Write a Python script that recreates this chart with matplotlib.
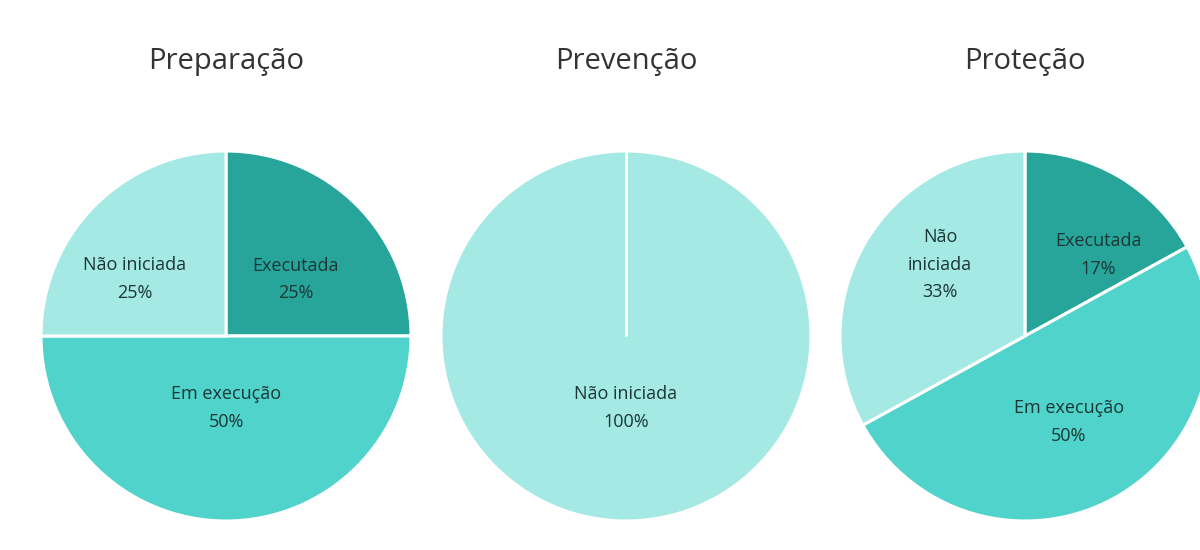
import numpy as np
import matplotlib.pyplot as plt

plt.rcParams['font.family'] = ['Open Sans', 'DejaVu Sans']

groups = ['Preparação', 'Prevenção', 'Proteção']
statuses = ['Executada', 'Em execução', 'Não iniciada']
preparacao = [25, 50, 25]
prevencao = [0, 0, 100]
protecao = [17, 50, 33]
colors = ['#27A59B', '#4FD3CA', '#A4E9E4']

# label placement inside each pie: (distance from centre, angle in degrees)
label_pos = [[(0.485, 39), (0.39, -90), (0.58, 148)],
             [None, None, (0.39, -90)],
             [(0.59, 48), (0.52, -63), (0.6, 140)]]
# Não iniciada label wraps in the narrower wedge of the last pie
label_text = [statuses, statuses, ['Executada', 'Em execução', 'Não\niniciada']]

W, H = 1200, 550
fig = plt.figure(figsize=(12, 5.5), dpi=100)
centers_x = [226, 626, 1025]
cy, rad = 214, 185

for i, vals in enumerate([preparacao, prevencao, protecao]):
    cx = centers_x[i]
    ax = fig.add_axes([(cx - rad) / W, (cy - rad) / H, 2 * rad / W, 2 * rad / H])
    wedges, _ = ax.pie(vals, colors=colors, startangle=90, counterclock=False,
                       radius=1, wedgeprops=dict(edgecolor='white', linewidth=2.2))
    ax.set_xlim(-1, 1)
    ax.set_ylim(-1, 1)
    ax.set_aspect('equal')
    ax.axis('off')
    for j, w in enumerate(wedges):
        if vals[j] == 0:
            continue
        if vals[j] == 100:
            # full circle still shows its seam
            a = np.deg2rad(w.theta2)
            ax.plot([0, np.cos(a)], [0, np.sin(a)], color='white', lw=2.2,
                    solid_capstyle='butt')
        r, ang = label_pos[i][j]
        ang = np.deg2rad(ang)
        ax.text(r * np.cos(ang), r * np.sin(ang),
                f'{label_text[i][j]}\n{vals[j]}%',
                ha='center', va='center', fontsize=13, color='#1C3634',
                linespacing=1.7)
    fig.text(cx / W, (H - 62) / H, groups[i], ha='center', va='center',
             fontsize=21, color='#333333')

fig.savefig('out.png', dpi=100, facecolor='white')
